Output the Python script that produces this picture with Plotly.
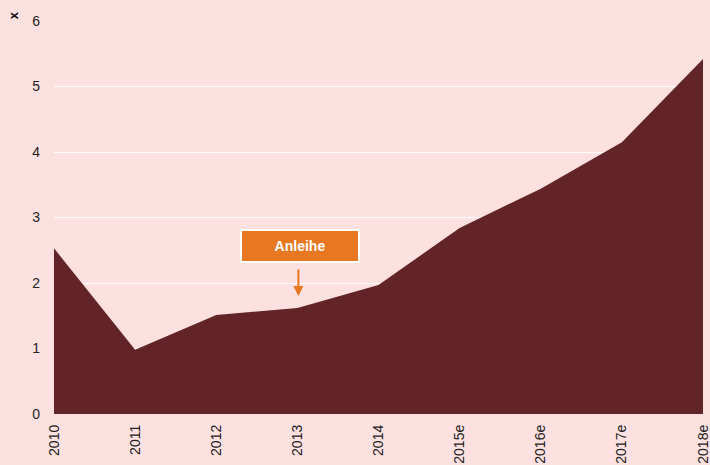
import plotly.graph_objects as go

years = ["2010", "2011", "2012", "2013", "2014", "2015e", "2016e", "2017e", "2018e"]
values = [2.53, 0.98, 1.51, 1.62, 1.97, 2.84, 3.44, 4.15, 5.42]
y_ticks = [0, 1, 2, 3, 4, 5, 6]
note_label = "Anleihe"
note_year = "2013"

note_idx = years.index(note_year)
font_family = "Liberation Sans, Arial"

fig = go.Figure()
fig.add_trace(go.Scatter(
    x=list(range(len(years))), y=values, mode="lines", fill="tozeroy",
    line=dict(width=0, color="#632427"), fillcolor="#632427",
    hoverinfo="skip", showlegend=False,
))

fig.add_annotation(x=note_idx, y=1.80, xref="x", yref="y", text="", showarrow=True,
                   ax=0, ay=-28, arrowcolor="#e87722", arrowwidth=2, arrowhead=2, arrowsize=1,
                   xshift=1)
fig.add_annotation(x=note_idx, y=2.57, xref="x", yref="y", text="<b>" + note_label + "</b>",
                   showarrow=False, bgcolor="#e87722", bordercolor="#ffffff", borderwidth=2,
                   font=dict(color="#ffffff", size=14, family=font_family),
                   width=114, height=28, xshift=3)
fig.add_annotation(xref="paper", yref="paper", x=-0.063, y=1.015, text="<b>x</b>",
                   showarrow=False, font=dict(size=13, color="#111", family=font_family),
                   textangle=-90, xanchor="center", yanchor="middle")

fig.update_layout(
    width=710, height=465,
    margin=dict(l=54, r=7, t=21, b=51, autoexpand=False),
    paper_bgcolor="#fde1e1", plot_bgcolor="#fde1e1",
    font=dict(family=font_family, size=14, color="#222"),
    xaxis=dict(range=[0, len(years) - 1], tickvals=list(range(len(years))), ticktext=years,
               showgrid=False, zeroline=False, tickangle=-90, ticks="", showline=False,
               fixedrange=True, ticklabeloverflow="allow", ticklabelstandoff=7,
               automargin=False),
    yaxis=dict(range=[0, 6], tickvals=y_ticks, showgrid=True, gridcolor="#ffffff",
               gridwidth=1, zeroline=False, ticks="", showline=False, fixedrange=True,
               ticklabelstandoff=13, automargin=False),
)

fig.write_html("out.html", config={"displayModeBar": False},
               post_script="document.body.style.margin='0';document.body.style.background='#fde1e1';")
